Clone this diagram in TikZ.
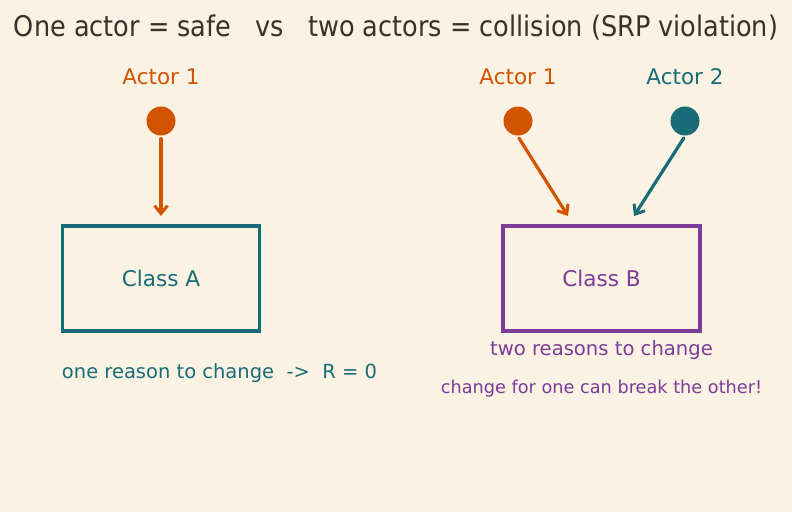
\documentclass[tikz,border=0pt]{standalone}
\usepackage{fontspec}
\setmainfont{DejaVu Sans}
\newfontfamily\condfont{DejaVu Sans Condensed}
\usetikzlibrary{arrows.meta}
\definecolor{bg}{HTML}{FAF2E3}
\definecolor{ink}{HTML}{3B302A}
\definecolor{orng}{HTML}{D35400}
\definecolor{teal}{HTML}{1A6B78}
\definecolor{purp}{HTML}{7D3C98}
\begin{document}
\begin{tikzpicture}[x=1pt,y=-1pt,
  actorlbl/.style={font=\fontsize{21.5}{24}\selectfont, anchor=center, inner sep=0},
  actordot/.style={circle, fill=#1, minimum size=29, inner sep=0},
  flow/.style={draw=#1, line width=3.2, -{Straight Barb[length=8,width=13,line width=3]}, line cap=round},
  classbox/.style={draw=#1, line width=3.6, minimum width=197, minimum height=105, inner sep=0, text=#1, font=\fontsize{21.6}{24}\selectfont},
  note/.style={font=\fontsize{#1}{22}\selectfont, inner sep=0, anchor=center}
]
\fill[bg] (0,0) rectangle (792,512);
\useasboundingbox (0,0) rectangle (792,512);
\node[inner sep=0, text=ink, font=\condfont\fontsize{28.4}{32}\selectfont] (title) at (396,27.5) {One actor = safe \ \ vs \ \ two actors = collision (SRP violation)};

% left
\node[actorlbl, text=orng] (la1) at (161,77) {Actor 1};
\node[actordot=orng] (ld1) at (161,121) {};
\node[classbox=teal] (ca) at (161,278.5) {Class A};
\draw[flow=orng] (ld1.south) ++(0,3) coordinate (ls) (ls) -- (161,216) coordinate (le);
\node[note=19.5, text=teal] (ra) at (219.5,373.5) {one reason to change \ -> \ R = 0};

% right
\node[actorlbl, text=orng] (ra1) at (518,77) {Actor 1};
\node[actordot=orng] (rd1) at (518,121) {};
\node[actorlbl, text=teal] (ra2) at (685,77) {Actor 2};
\node[actordot=teal] (rd2) at (685,121) {};
\node[classbox=purp] (cb) at (601.5,278.5) {Class B};
\coordinate (t1) at (568,216);
\coordinate (t2) at (634,216);
\draw[flow=orng] (rd1) ++(0.9,17) coordinate (s1) (s1) -- (t1);
\draw[flow=teal] (rd2) ++(-1.2,17) coordinate (s2) (s2) -- (t2);
\node[note=19.6, text=purp] (rb) at (601.5,350) {two reasons to change};
\node[note=17.7, text=purp] (rb2) at (601.5,388.5) {change for one can break the other!};
\end{tikzpicture}
\end{document}
